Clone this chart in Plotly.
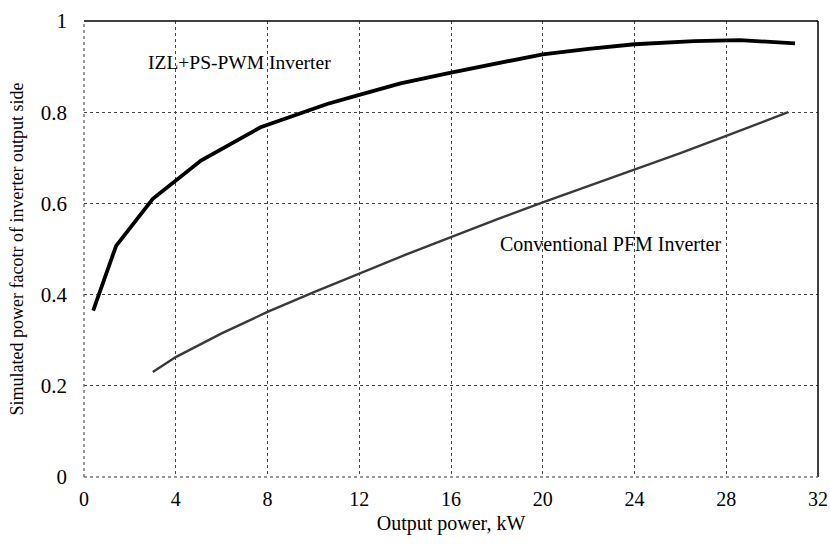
import plotly.graph_objects as go

# IZL+PS-PWM inverter
izl_x = [0.4, 1.4, 3.0, 5.1, 7.7, 10.6, 12.0, 13.8, 16.0, 18.1, 20.0, 22.0, 24.0, 26.6, 28.6, 31.0]
izl_y = [0.365, 0.507, 0.610, 0.694, 0.767, 0.818, 0.838, 0.863, 0.887, 0.907, 0.927, 0.939, 0.949, 0.956, 0.958, 0.951]

# Conventional PFM inverter
pfm_x = [3.0, 4.0, 6.0, 8.0, 10.0, 12.0, 14.0, 16.0, 18.0, 20.0, 22.0, 24.0, 26.0, 28.0, 30.7]
pfm_y = [0.230, 0.263, 0.315, 0.362, 0.405, 0.446, 0.487, 0.526, 0.565, 0.602, 0.638, 0.675, 0.710, 0.748, 0.800]

x_ticks = [0, 4, 8, 12, 16, 20, 24, 28, 32]
y_ticks = [0, 0.2, 0.4, 0.6, 0.8, 1]
y_tick_text = ["0", "0.2", "0.4", "0.6", "0.8", "1"]

FONT = "Liberation Serif"

fig = go.Figure()
fig.add_trace(go.Scatter(x=pfm_x, y=pfm_y, mode="lines",
                         line=dict(color="#3a3a3a", width=2.4), showlegend=False))
fig.add_trace(go.Scatter(x=izl_x, y=izl_y, mode="lines",
                         line=dict(color="black", width=3.8), showlegend=False))

fig.add_annotation(x=6.76, y=0.908, text="IZL+PS-PWM Inverter", showarrow=False,
                   font=dict(family=FONT, size=19.5, color="black"))
fig.add_annotation(x=22.94, y=0.512, text="Conventional PFM Inverter", showarrow=False,
                   font=dict(family=FONT, size=20, color="black"))

# frame: top and right solid, left and bottom dotted grey
fig.add_shape(type="line", xref="paper", yref="paper", x0=0, x1=1, y0=1, y1=1,
              line=dict(color="black", width=1.5))
fig.add_shape(type="line", xref="paper", yref="paper", x0=1, x1=1, y0=0, y1=1,
              line=dict(color="black", width=1.5))
fig.add_shape(type="line", xref="paper", yref="paper", x0=0, x1=0, y0=0, y1=1,
              line=dict(color="#777777", width=1.5, dash="dot"))
fig.add_shape(type="line", xref="paper", yref="paper", x0=0, x1=1, y0=0, y1=0,
              line=dict(color="#777777", width=1.5, dash="dot"))

fig.update_layout(
    width=830, height=547,
    margin=dict(l=84, r=12, t=21, b=70),
    paper_bgcolor="white", plot_bgcolor="white",
    font=dict(family=FONT, size=20, color="black"),
    xaxis=dict(range=[0, 32], tickvals=x_ticks, showgrid=True, gridcolor="#444444",
               griddash="dot", gridwidth=1, zeroline=False, showline=False,
               ticks="", ticklabelstandoff=8, automargin=False,
               tickfont=dict(size=20),
               title=dict(text="Output power, kW", standoff=6, font=dict(size=20))),
    yaxis=dict(range=[0, 1], tickvals=y_ticks, ticktext=y_tick_text, showgrid=True,
               gridcolor="#444444", griddash="dot", gridwidth=1, zeroline=False,
               showline=False, ticks="", ticklabelstandoff=16, automargin=False,
               tickfont=dict(size=21),
               title=dict(text="Simulated power facotr of inverter output side",
                          standoff=12, font=dict(size=18))),
)

fig.write_html("out.html",
               config={"displayModeBar": False},
               post_script="document.body.style.margin='0';document.body.style.overflow='hidden';")
